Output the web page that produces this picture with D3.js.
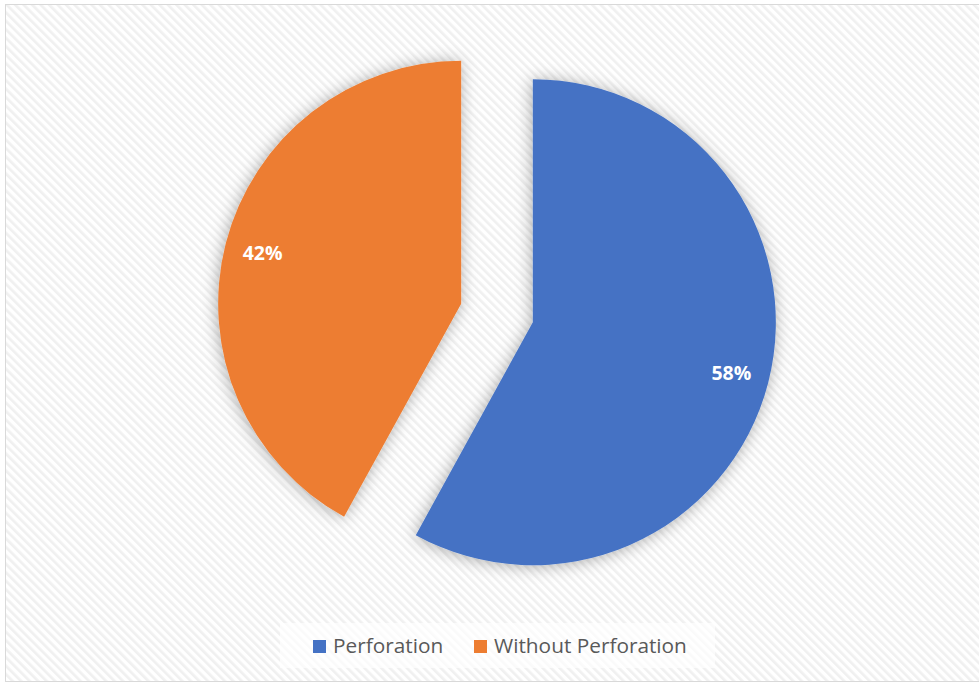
<!DOCTYPE html>
<html>
<head>
<meta charset="utf-8">
<script src="https://cdn.jsdelivr.net/npm/d3@7"></script>
<style>
  html, body { margin: 0; padding: 0; background: #ffffff; }
  svg { display: block; }
</style>
</head>
<body>
<div id="chart"></div>
<script>
// ---- data ----
const categories = ["Perforation", "Without Perforation"];
const values = [58, 42];
const labels = ["58%", "42%"];
const colors = ["#4472C4", "#ED7D31"];

// ---- layout ----
const W = 979, H = 684;
const cx = 497, cy = 313, R = 243, explode = 37, labelR = 205;

const svg = d3.select("#chart").append("svg")
  .attr("width", W).attr("height", H);

const defs = svg.append("defs");
const pat = defs.append("pattern")
  .attr("id", "stripes")
  .attr("patternUnits", "userSpaceOnUse")
  .attr("width", 6).attr("height", 6)
  .attr("patternTransform", "rotate(-45)");
pat.append("rect").attr("width", 6).attr("height", 6).attr("fill", "#ffffff");
pat.append("rect").attr("width", 2.6).attr("height", 6).attr("fill", "#f0f0f0");

const f = defs.append("filter").attr("id", "shadow")
  .attr("x", "-20%").attr("y", "-20%").attr("width", "140%").attr("height", "140%");
f.append("feDropShadow").attr("dx", -1).attr("dy", 1)
  .attr("stdDeviation", 8).attr("flood-color", "#000").attr("flood-opacity", 0.33);

// chart area
svg.append("rect").attr("x", 5.5).attr("y", 4.5)
  .attr("width", W + 10).attr("height", 677)
  .attr("fill", "url(#stripes)").attr("stroke", "#d9d9d9").attr("stroke-width", 1);

// ---- pie ----
const pie = d3.pie().sort(null).value(d => d)(values);
const arc = d3.arc().innerRadius(0).outerRadius(R);
const labelArc = d3.arc().innerRadius(labelR).outerRadius(labelR);

const g = svg.append("g").attr("transform", `translate(${cx},${cy})`);

const slices = g.selectAll("g.slice").data(pie).enter().append("g")
  .attr("class", "slice")
  .attr("transform", d => {
    const a = (d.startAngle + d.endAngle) / 2;
    return `translate(${explode * Math.sin(a)},${-explode * Math.cos(a)})`;
  });

slices.append("path")
  .attr("d", arc)
  .attr("fill", (d, i) => colors[i])
  .attr("filter", "url(#shadow)");

slices.append("text")
  .attr("transform", d => `translate(${labelArc.centroid(d)})`)
  .attr("text-anchor", "middle")
  .attr("dy", "0.36em")
  .attr("font-family", "'Open Sans', sans-serif")
  .attr("font-weight", "bold")
  .attr("font-size", 19.5)
  .attr("fill", "#ffffff")
  .text((d, i) => labels[i]);

// ---- legend ----
svg.append("rect").attr("x", 280).attr("y", 623).attr("width", 435).attr("height", 45)
  .attr("fill", "#ffffff").attr("fill-opacity", 0.65);

const legendX = [313, 474];
const lg = svg.append("g");
categories.forEach((c, i) => {
  lg.append("rect").attr("x", legendX[i]).attr("y", 640)
    .attr("width", 13).attr("height", 13).attr("fill", colors[i]);
  lg.append("text").attr("x", legendX[i] + 20).attr("y", 653)
    .attr("font-family", "'Open Sans', sans-serif")
    .attr("font-size", 20.8)
    .attr("fill", "#595959")
    .text(c);
});
</script>
</body>
</html>
